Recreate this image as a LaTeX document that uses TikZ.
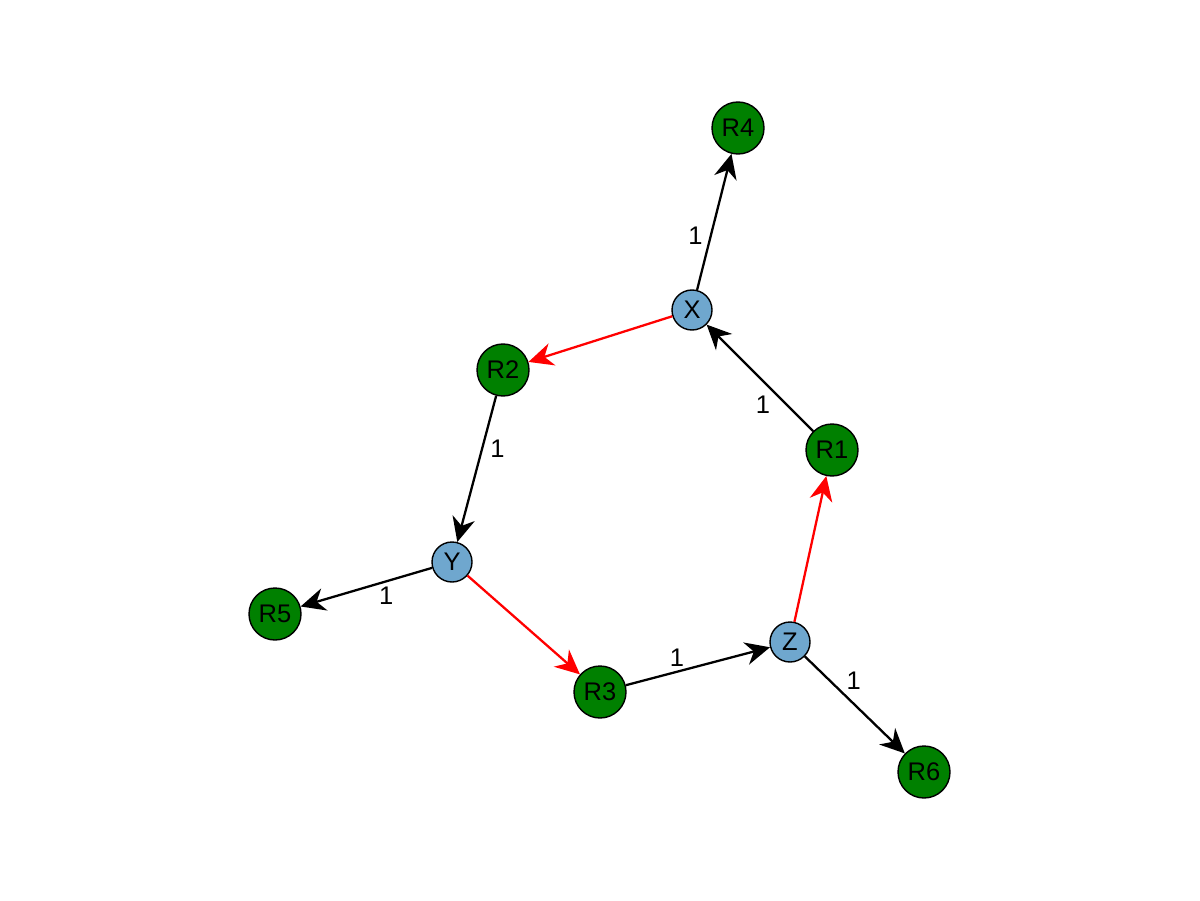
\documentclass[tikz,border=0pt]{standalone}
\usepackage{fontspec}
\setmainfont{Liberation Sans}
\usepackage{xcolor}
\usetikzlibrary{arrows.meta}
\definecolor{leafgreen}{RGB}{0,128,0}
\definecolor{hubblue}{RGB}{111,167,206}

\begin{document}
\begin{tikzpicture}[%
% common options for the reaction circles:
rnode/.style = {circle, draw, fill=leafgreen, line width=0.8pt, align=center,
            minimum size=1.04cm, inner sep=0, font=\fontsize{14.5}{16}\selectfont},
% common options for the species circles:
snode/.style = {circle, draw, fill=hubblue, line width=0.8pt, align=center,
            minimum size=0.8cm, inner sep=0, font=\fontsize{14.5}{16}\selectfont},
% common options for the edges:
arr/.style = {-{Stealth[length=14pt, width=13pt, inset=4.5pt]}, line width=1.3pt},
lbl/.style = {inner sep=1pt, font=\fontsize{14.5}{16}\selectfont}]
\useasboundingbox (0,0) rectangle (24,18);
\node[rnode] (R4) at (14.76,15.44) {R4};
\node[snode] (X)  at (13.84,11.80) {X};
\node[rnode] (R2) at (10.06,10.60) {R2};
\node[rnode] (R1) at (16.64,9.00) {R1};
\node[snode] (Y)  at (9.04,6.76) {Y};
\node[rnode] (R5) at (5.50,5.72) {R5};
\node[snode] (Z)  at (15.80,5.16) {Z};
\node[rnode] (R3) at (12.00,4.16) {R3};
\node[rnode] (R6) at (18.48,2.56) {R6};
\draw[arr] (X) to node[lbl, pos=0.40, left=3pt] {1} (R4);
\draw[arr] (R1) to node[lbl, pos=0.37, below left=0.5pt] {1} (X);
\draw[arr, red] (X) to (R2);
\draw[arr] (R2) to node[lbl, pos=0.36, right=3pt] {1} (Y);
\draw[arr] (Y) to node[lbl, pos=0.35, below=1.5pt] {1} (R5);
\draw[arr, red] (Y) to (R3);
\draw[arr] (R3) to node[lbl, pos=0.355, above=1.5pt] {1} (Z);
\draw[arr, red] (Z) to (R1);
\draw[arr] (Z) to node[lbl, pos=0.38, above right=0.5pt] {1} (R6);
\end{tikzpicture}
\end{document}
